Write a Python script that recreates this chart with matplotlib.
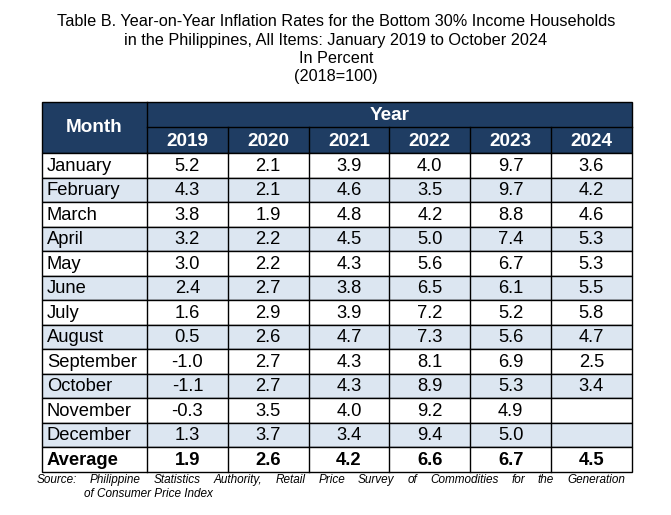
import matplotlib.pyplot as plt
from matplotlib.patches import Rectangle

# data
months = ["January", "February", "March", "April", "May", "June", "July",
          "August", "September", "October", "November", "December"]
years = ["2019", "2020", "2021", "2022", "2023", "2024"]
y2019 = [5.2, 4.3, 3.8, 3.2, 3.0, 2.4, 1.6, 0.5, -1.0, -1.1, -0.3, 1.3]
y2020 = [2.1, 2.1, 1.9, 2.2, 2.2, 2.7, 2.9, 2.6, 2.7, 2.7, 3.5, 3.7]
y2021 = [3.9, 4.6, 4.8, 4.5, 4.3, 3.8, 3.9, 4.7, 4.3, 4.3, 4.0, 3.4]
y2022 = [4.0, 3.5, 4.2, 5.0, 5.6, 6.5, 7.2, 7.3, 8.1, 8.9, 9.2, 9.4]
y2023 = [9.7, 9.7, 8.8, 7.4, 6.7, 6.1, 5.2, 5.6, 6.9, 5.3, 4.9, 5.0]
y2024 = [3.6, 4.2, 4.6, 5.3, 5.3, 5.5, 5.8, 4.7, 2.5, 3.4, None, None]
averages = [1.9, 2.6, 4.2, 6.6, 6.7, 4.5]

title_lines = ["Table B. Year-on-Year Inflation Rates for the Bottom 30% Income Households",
               "in the Philippines, All Items: January 2019 to October 2024",
               "In Percent",
               "(2018=100)"]

navy = "#1F3D63"
light = "#DCE6F1"
FONT = "Liberation Sans"

fig = plt.figure(figsize=(6.71, 5.15), dpi=100)
ax = fig.add_axes([0, 0, 1, 1])
ax.set_xlim(0, 671)
ax.set_ylim(515, 0)
ax.axis("off")

# title
for k, line in enumerate(title_lines):
    ax.text(336, 22 + k * 18.3, line, ha="center", va="center",
            fontsize=11.7, family=FONT)

# table geometry (pixels)
left, month_w, col_w = 42, 105, 80.8
top, h1, h2, row_h = 102, 25, 26, 24.5
x_edges = [left, left + month_w] + [left + month_w + col_w * (i + 1) for i in range(6)]
right = x_edges[-1]

# header
ax.add_patch(Rectangle((left, top), right - left, h1 + h2, facecolor=navy,
                       edgecolor="black", lw=1))
ax.plot([x_edges[1], x_edges[1]], [top, top + h1 + h2], color="black", lw=1)
ax.plot([x_edges[1], right], [top + h1, top + h1], color="black", lw=1)
for x in x_edges[2:-1]:
    ax.plot([x, x], [top + h1, top + h1 + h2], color="black", lw=1)
ax.text((left + x_edges[1]) / 2, top + (h1 + h2) / 2, "Month", color="white",
        fontweight="bold", fontsize=13.6, ha="center", va="center", family=FONT)
ax.text((x_edges[1] + right) / 2, top + h1 / 2 + 1, "Year", color="white",
        fontweight="bold", fontsize=13.6, ha="center", va="center", family=FONT)
for i, yr in enumerate(years):
    ax.text((x_edges[i + 1] + x_edges[i + 2]) / 2, top + h1 + h2 / 2 + 1, yr,
            color="white", fontweight="bold", fontsize=13.6, ha="center",
            va="center", family=FONT)

# body
cols = [y2019, y2020, y2021, y2022, y2023, y2024]
body_top = top + h1 + h2
for r in range(len(months) + 1):
    y0 = body_top + r * row_h
    fc = light if (r % 2 == 1 and r < len(months)) else "white"
    ax.add_patch(Rectangle((left, y0), right - left, row_h, facecolor=fc,
                           edgecolor="black", lw=1))
    is_avg = r == len(months)
    label = "Average" if is_avg else months[r]
    weight = "bold" if is_avg else "normal"
    ax.text(left + 5, y0 + row_h / 2 + 1, label, ha="left", va="center",
            fontsize=13.2, fontweight=weight, family=FONT)
    for c in range(6):
        v = averages[c] if is_avg else cols[c][r]
        if v is not None:
            ax.text((x_edges[c + 1] + x_edges[c + 2]) / 2, y0 + row_h / 2 + 1,
                    f"{v:.1f}", ha="center", va="center", fontsize=13.2,
                    fontweight=weight, family=FONT)
body_bottom = body_top + (len(months) + 1) * row_h
for x in x_edges[1:-1]:
    ax.plot([x, x], [body_top, body_bottom], color="black", lw=1)

# source note (justified first line)
ax.text(37, 480, "Source:", ha="left", va="center", fontsize=8.5,
        style="italic", family=FONT)
words = ["Philippine", "Statistics", "Authority,", "Retail", "Price",
         "Survey", "of", "Commodities", "for", "the", "Generation"]
start, end = 90, 625
renderer = fig.canvas.get_renderer()
widths = []
for w in words:
    t = ax.text(0, 0, w, fontsize=8.5, style="italic", family=FONT)
    widths.append(t.get_window_extent(renderer=renderer).width)
    t.remove()
gap = (end - start - sum(widths)) / (len(words) - 1)
x = start
for w, wd in zip(words, widths):
    ax.text(x, 480, w, ha="left", va="center", fontsize=8.5, style="italic",
            family=FONT)
    x += wd + gap
ax.text(84, 494, "of Consumer Price Index", ha="left", va="center",
        fontsize=8.5, style="italic", family=FONT)

fig.savefig("out.png", dpi=100)
